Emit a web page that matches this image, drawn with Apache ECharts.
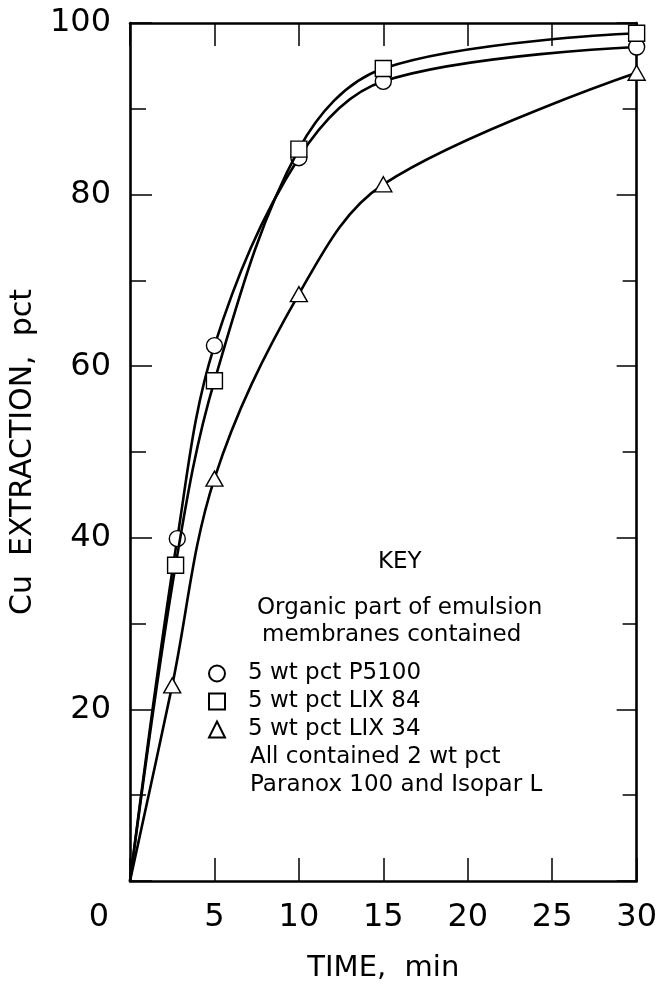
<!DOCTYPE html>
<html>
<head>
<meta charset="utf-8">
<script src="https://cdn.jsdelivr.net/npm/echarts@6/dist/echarts.min.js"></script>
<style>html,body{margin:0;padding:0;background:#fff;}#c{width:660px;height:988px;}</style>
</head>
<body>
<div id="c"></div>
<script>
// time (min) read per series from the picture
const timesP5100 = [0, 2.8, 5, 10, 15, 30];
const timesLIX84 = [0, 2.7, 5, 10, 15, 30];
const timesLIX34 = [0, 2.5, 5, 10, 15, 30];
// Cu extraction, pct
const p5100 = [0, 39.9, 62.4, 84.3, 93.2, 97.2];
const lix84 = [0, 36.8, 58.3, 85.3, 94.7, 98.8];
const lix34 = [0, 22.8, 46.9, 68.4, 81.2, 94.2];
const seriesNames = ['5 wt pct P5100', '5 wt pct LIX 84', '5 wt pct LIX 34'];
const seriesSymbols = ['circle', 'rect', 'triangle'];
const keyTitle = 'KEY';
const keyHeader = ['Organic part of emulsion', 'membranes contained'];
const keyFooter = ['All contained 2 wt pct', 'Paranox 100 and Isopar L'];
const xTitle = 'TIME,  min';
const yTitle = 'Cu  EXTRACTION,  pct';

const FONT = 'DejaVu Sans';
const chart = echarts.init(document.getElementById('c'), null, {renderer: 'canvas'});

function mk(ts, vals) { return ts.map((t, i) => [t, vals[i]]); }
const allTimes = [timesP5100, timesLIX84, timesLIX34];
const allVals = [p5100, lix84, lix34];
const symSizes = [[16, 16], [16, 16], [17, 15]];

const series = allVals.map((v, k) => ({
  name: seriesNames[k],
  type: 'line',
  data: mk(allTimes[k], v),
  smooth: 0.35,
  symbol: (val) => val[0] === 0 ? 'none' : seriesSymbols[k],
  symbolSize: symSizes[k],
  showAllSymbol: true,
  lineStyle: {color: '#000', width: 2.6},
  itemStyle: {color: '#fff', borderColor: '#000', borderWidth: 1.4},
  z: 3 + k
}));

const axisCommon = {
  axisLine: {show: true, onZero: false, lineStyle: {color: '#000', width: 2.6}},
  splitLine: {show: false}
};

chart.setOption({
  backgroundColor: '#fff',
  animation: false,
  grid: {left: 128, right: 19, top: 23, bottom: 105, containLabel: false},
  xAxis: [
    Object.assign({}, axisCommon, {
      type: 'value', min: 0, max: 30, interval: 5, position: 'bottom',
      axisTick: {show: true, inside: true, length: 23, lineStyle: {color: '#000', width: 1.5}},
      axisLabel: {
        show: true, margin: 21, color: '#000', fontFamily: FONT, fontSize: 32,
        formatter: (v) => v === 0 ? '{z|0}' : String(v),
        rich: {z: {fontFamily: FONT, fontSize: 32, color: '#000', padding: [0, 62, 0, 0]}}
      },
      name: xTitle, nameLocation: 'middle', nameGap: 73,
      nameTextStyle: {color: '#000', fontFamily: FONT, fontSize: 29}
    }),
    Object.assign({}, axisCommon, {
      type: 'value', min: 0, max: 30, interval: 5, position: 'top',
      axisTick: {show: true, inside: true, length: 23, lineStyle: {color: '#000', width: 1.5}},
      axisLabel: {show: false}
    })
  ],
  yAxis: [
    Object.assign({}, axisCommon, {
      type: 'value', min: 0, max: 100, interval: 20, position: 'left',
      axisTick: {show: true, inside: true, length: 22, lineStyle: {color: '#000', width: 1.5}},
      minorTick: {show: true, splitNumber: 2, length: 16, lineStyle: {color: '#000', width: 1.5}},
      axisLabel: {
        show: true, margin: 19, color: '#000', fontFamily: FONT, fontSize: 32,
        formatter: (v) => v === 0 ? '' : String(v)
      },
      name: yTitle, nameLocation: 'middle', nameGap: 92, nameRotate: 90,
      nameTextStyle: {color: '#000', fontFamily: FONT, fontSize: 30}
    }),
    Object.assign({}, axisCommon, {
      type: 'value', min: 0, max: 100, interval: 20, position: 'right',
      axisTick: {show: true, inside: true, length: 20, lineStyle: {color: '#000', width: 1.5}},
      minorTick: {show: true, splitNumber: 2, length: 14, lineStyle: {color: '#000', width: 1.5}},
      axisLabel: {show: false}
    })
  ],
  legend: {
    orient: 'vertical', left: 208, top: 662,
    itemWidth: 16, itemHeight: 16, itemGap: 5,
    padding: 0,
    selectedMode: false,
    textStyle: {color: '#000', fontFamily: FONT, fontSize: 23, padding: [0, 0, 0, 18]},
    data: seriesNames.map((n, k) => ({name: n, icon: seriesSymbols[k]}))
  },
  graphic: [
    {type: 'text', left: 378, top: 551, style: {text: keyTitle, fill: '#000', font: '23px "' + FONT + '"'}},
    {type: 'text', left: 257, top: 597, style: {text: keyHeader[0], fill: '#000', font: '23px "' + FONT + '"'}},
    {type: 'text', left: 262, top: 624, style: {text: keyHeader[1], fill: '#000', font: '23px "' + FONT + '"'}},
    {type: 'text', left: 250, top: 746, style: {text: keyFooter[0], fill: '#000', font: '23px "' + FONT + '"'}},
    {type: 'text', left: 250, top: 774, style: {text: keyFooter[1], fill: '#000', font: '23px "' + FONT + '"'}}
  ],
  series: series
});
</script>
</body>
</html>
